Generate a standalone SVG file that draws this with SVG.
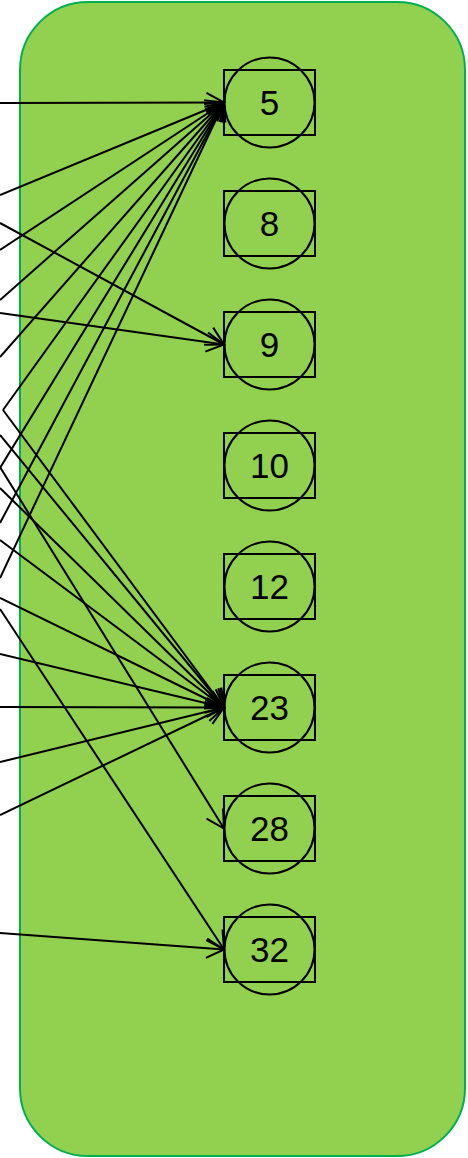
<svg xmlns="http://www.w3.org/2000/svg" width="468" height="1158" viewBox="0 0 468 1158">
<style>
.box{fill:#92d050;stroke:#00b050;stroke-width:2}
.nr{fill:none;stroke:#000;stroke-width:2}
.nc{fill:none;stroke:#000;stroke-width:2}
.lbl{font-family:"Liberation Sans",Arial,sans-serif;font-size:35px;fill:#000;text-anchor:middle}
.e{fill:none;stroke:#000;stroke-width:2;marker-end:url(#arr)}
</style>
<defs>
<marker id="arr" markerUnits="userSpaceOnUse" orient="auto" markerWidth="24" markerHeight="24" refX="0" refY="0" viewBox="-20 -12 22 24" overflow="visible">
<path d="M-17.5,-9.7 L0,0 L-17.5,9.7" fill="none" stroke="#000" stroke-width="2"/>
</marker>
</defs>
<rect id="container" class="box" x="20" y="2" width="445" height="1154" rx="68" ry="68"/>
<g id="connectors">
<line class="e" x1="0" y1="103" x2="224" y2="102.5"/>
<line class="e" x1="0" y1="195" x2="224" y2="102.5"/>
<line class="e" x1="0" y1="250" x2="224" y2="102.5"/>
<line class="e" x1="0" y1="300" x2="224" y2="102.5"/>
<line class="e" x1="0" y1="357" x2="224" y2="102.5"/>
<line class="e" x1="3" y1="410" x2="224" y2="102.5"/>
<line class="e" x1="0" y1="468" x2="224" y2="102.5"/>
<line class="e" x1="0" y1="523" x2="224" y2="102.5"/>
<line class="e" x1="0" y1="578" x2="224" y2="102.5"/>
<line class="e" x1="0" y1="223" x2="224" y2="344.5"/>
<line class="e" x1="0" y1="313" x2="224" y2="344.5"/>
<line class="e" x1="3" y1="410" x2="224" y2="707.5"/>
<line class="e" x1="0" y1="435" x2="224" y2="707.5"/>
<line class="e" x1="0" y1="488" x2="224" y2="707.5"/>
<line class="e" x1="0" y1="540" x2="224" y2="707.5"/>
<line class="e" x1="0" y1="598" x2="224" y2="707.5"/>
<line class="e" x1="0" y1="654" x2="224" y2="707.5"/>
<line class="e" x1="0" y1="707" x2="224" y2="707.5"/>
<line class="e" x1="0" y1="762" x2="224" y2="707.5"/>
<line class="e" x1="0" y1="815" x2="224" y2="707.5"/>
<line class="e" x1="0" y1="467" x2="224" y2="828.5"/>
<line class="e" x1="0" y1="609" x2="224" y2="949.5"/>
<line class="e" x1="0" y1="933" x2="224" y2="949.5"/>
</g>
<g id="n5"><rect class="nr" x="224" y="70" width="91" height="65"/><circle class="nc" cx="269.5" cy="102.5" r="45"/><text class="lbl" x="269.5" y="115">5</text></g>
<g id="n8"><rect class="nr" x="224" y="191" width="91" height="65"/><circle class="nc" cx="269.5" cy="223.5" r="45"/><text class="lbl" x="269.5" y="236">8</text></g>
<g id="n9"><rect class="nr" x="224" y="312" width="91" height="65"/><circle class="nc" cx="269.5" cy="344.5" r="45"/><text class="lbl" x="269.5" y="357">9</text></g>
<g id="n10"><rect class="nr" x="224" y="433" width="91" height="65"/><circle class="nc" cx="269.5" cy="465.5" r="45"/><text class="lbl" x="269.5" y="478">10</text></g>
<g id="n12"><rect class="nr" x="224" y="554" width="91" height="65"/><circle class="nc" cx="269.5" cy="586.5" r="45"/><text class="lbl" x="269.5" y="599">12</text></g>
<g id="n23"><rect class="nr" x="224" y="675" width="91" height="65"/><circle class="nc" cx="269.5" cy="707.5" r="45"/><text class="lbl" x="269.5" y="720">23</text></g>
<g id="n28"><rect class="nr" x="224" y="796" width="91" height="65"/><circle class="nc" cx="269.5" cy="828.5" r="45"/><text class="lbl" x="269.5" y="841">28</text></g>
<g id="n32"><rect class="nr" x="224" y="917" width="91" height="65"/><circle class="nc" cx="269.5" cy="949.5" r="45"/><text class="lbl" x="269.5" y="962">32</text></g>
</svg>
